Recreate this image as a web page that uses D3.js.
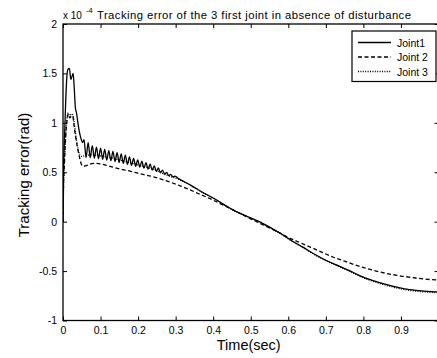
<!DOCTYPE html>
<html>
<head>
<meta charset="utf-8">
<script src="https://cdn.jsdelivr.net/npm/d3@7/dist/d3.min.js"></script>
<style>
    body { margin: 0; background: #fff; }
    svg { display: block; font-family: Arial, "Liberation Sans", sans-serif; }
</style>
</head>
<body>
<svg id="chart" width="437" height="358"></svg>
<script>
// values in units of 1e-4 rad
const xTicks = [0, 0.1, 0.2, 0.3, 0.4, 0.5, 0.6, 0.7, 0.8, 0.9];
const xTickLabels = ['0', '0.1', '0.2', '0.3', '0.4', '0.5', '0.6', '0.7', '0.8', '0.9'];
const yTicks = [-1, -0.5, 0, 0.5, 1, 1.5, 2];
const yTickLabels = ['-1', '-0.5', '0', '0.5', '1', '1.5', '2'];

const seriesNames = ['Joint1', 'Joint 2', 'Joint 3'];

const joint1Time = [
    0, 0.001, 0.004, 0.007, 0.010, 0.013, 0.017, 0.021, 0.024, 0.027, 0.030, 0.033,
    0.036, 0.039, 0.043, 0.048, 0.052,
    0.0560, 0.0615, 0.0670, 0.0725, 0.0780, 0.0835, 0.0890, 0.0945, 0.1000, 0.1055,
    0.1110, 0.1165, 0.1220, 0.1275, 0.1330, 0.1385, 0.1440, 0.1495, 0.1550, 0.1605,
    0.1660, 0.1715, 0.1770, 0.1825, 0.1880, 0.1935, 0.1990, 0.2045, 0.2100, 0.2155,
    0.2210, 0.2265, 0.2320, 0.2375, 0.2430, 0.2485, 0.2540, 0.2595, 0.2650, 0.2705,
    0.2760, 0.2815, 0.2870, 0.2925, 0.2980,
    0.31, 0.34, 0.37, 0.40, 0.43, 0.46, 0.49, 0.52, 0.55, 0.58, 0.61, 0.64, 0.67,
    0.70, 0.73, 0.76, 0.79, 0.82, 0.85, 0.88, 0.91, 0.94, 0.97, 1.0
];
const joint1Error = [
    0, 0.45, 0.85, 1.2, 1.45, 1.54, 1.55, 1.44, 1.47, 1.50, 1.35, 1.15,
    1.10, 1.02, 0.92, 0.84, 0.80,
    0.83, 0.649, 0.80, 0.647, 0.770, 0.643, 0.755, 0.638, 0.745, 0.631,
    0.732, 0.623, 0.719, 0.617, 0.711, 0.608, 0.698, 0.598, 0.686, 0.589,
    0.672, 0.579, 0.656, 0.569, 0.641, 0.560, 0.626, 0.551, 0.612, 0.542,
    0.596, 0.531, 0.581, 0.521, 0.564, 0.510, 0.543, 0.495, 0.522, 0.480,
    0.499, 0.467, 0.478, 0.453, 0.460,
    0.43, 0.37, 0.30, 0.24, 0.17, 0.105, 0.055, 0.005, -0.055, -0.12, -0.195, -0.26, -0.33,
    -0.39, -0.44, -0.49, -0.545, -0.59, -0.625, -0.655, -0.68, -0.695, -0.705, -0.71
];

const joint2Time = [
    0, 0.001, 0.004, 0.007, 0.010, 0.014, 0.018, 0.022, 0.026, 0.030, 0.034, 0.039,
    0.044, 0.049, 0.054, 0.060, 0.07, 0.08, 0.10, 0.12, 0.15, 0.18, 0.21, 0.24, 0.27,
    0.30, 0.33, 0.36, 0.39, 0.42, 0.45, 0.48, 0.51, 0.54, 0.57, 0.60, 0.63, 0.66,
    0.69, 0.72, 0.75, 0.78, 0.81, 0.84, 0.87, 0.90, 0.93, 0.96, 1.0
];
const joint2Error = [
    0, 0.3, 0.6, 0.85, 1.0, 1.09, 1.05, 1.07, 1.07, 0.95, 0.85, 0.74,
    0.65, 0.58, 0.56, 0.565, 0.58, 0.59, 0.585, 0.565, 0.535, 0.51, 0.48, 0.455, 0.42,
    0.38, 0.335, 0.285, 0.235, 0.18, 0.125, 0.065, 0.01, -0.045, -0.10, -0.16, -0.21, -0.26,
    -0.31, -0.36, -0.40, -0.44, -0.475, -0.505, -0.53, -0.55, -0.565, -0.58, -0.59
];

const joint3Time = [
    0, 0.002, 0.006, 0.010, 0.014, 0.018, 0.022, 0.026, 0.030, 0.034, 0.039, 0.044,
    0.05, 0.06, 0.08, 0.10, 0.13, 0.16, 0.20, 0.24, 0.28, 0.31, 0.34, 0.37, 0.40,
    0.43, 0.46, 0.49, 0.52, 0.55, 0.58, 0.61, 0.64, 0.67, 0.70, 0.73, 0.76, 0.79,
    0.82, 0.85, 0.88, 0.91, 0.94, 0.97, 1.0
];
const joint3Error = [
    0, 0.4, 0.8, 1.02, 1.10, 1.06, 1.09, 1.08, 1.0, 0.88, 0.76, 0.68,
    0.66, 0.67, 0.675, 0.665, 0.645, 0.615, 0.575, 0.53, 0.465, 0.425, 0.367, 0.297, 0.237,
    0.167, 0.102, 0.052, 0.002, -0.058, -0.123, -0.198, -0.264, -0.334, -0.395, -0.447, -0.497, -0.552,
    -0.597, -0.633, -0.663, -0.688, -0.703, -0.713, -0.718
];

const series = [
    { name: seriesNames[0], t: joint1Time, v: joint1Error, dash: null },
    { name: seriesNames[1], t: joint2Time, v: joint2Error, dash: '4,2.5' },
    { name: seriesNames[2], t: joint3Time, v: joint3Error, dash: '1,1.4' }
];

const svg = d3.select('#chart');

// plot box (right edge runs just past the window like the original)
const box = { left: 63, right: 438.5, top: 24, bottom: 320.5 };

const x = d3.scaleLinear().domain([0, 1]).range([box.left, box.right]);
const y = d3.scaleLinear().domain([-1, 2]).range([box.bottom, box.top]);

svg.append('rect')
    .attr('width', 437).attr('height', 358).attr('fill', '#fff');

svg.append('defs').append('clipPath').attr('id', 'plot-clip')
    .append('rect')
    .attr('x', box.left).attr('y', box.top)
    .attr('width', box.right - box.left).attr('height', box.bottom - box.top);

// curves
const line = d3.line()
    .x(d => x(d[0]))
    .y(d => y(d[1]))
    .curve(d3.curveMonotoneX);

const curves = svg.append('g').attr('clip-path', 'url(#plot-clip)');
// draw joint 3 first, then joint 2, then joint 1 on top
[series[2], series[1], series[0]].forEach(s => {
    curves.append('path')
        .datum(s.t.map((t, i) => [t, s.v[i]]))
        .attr('fill', 'none')
        .attr('stroke', '#000')
        .attr('stroke-width', 1.3)
        .attr('stroke-dasharray', s.dash)
        .attr('d', line);
});

// axes: ticks point inward on all four sides
const tickLen = 4;
const axisFont = g => g.selectAll('text')
    .attr('font-size', 10.5)
    .attr('font-family', 'Arial, "Liberation Sans", sans-serif')
    .attr('fill', '#000');

svg.append('g')
    .attr('transform', `translate(0,${box.bottom})`)
    .call(d3.axisBottom(x).tickValues(xTicks).tickFormat((d, i) => xTickLabels[i])
        .tickSizeInner(-tickLen).tickSizeOuter(0).tickPadding(6))
    .call(axisFont)
    .call(g => g.select('.domain').remove());

svg.append('g')
    .attr('transform', `translate(0,${box.top})`)
    .call(d3.axisTop(x).tickValues(xTicks).tickFormat('')
        .tickSizeInner(-tickLen).tickSizeOuter(0))
    .call(g => g.select('.domain').remove());

svg.append('g')
    .attr('transform', `translate(${box.left},0)`)
    .call(d3.axisLeft(y).tickValues(yTicks).tickFormat((d, i) => yTickLabels[i])
        .tickSizeInner(-tickLen).tickSizeOuter(0).tickPadding(6))
    .call(axisFont)
    .call(g => g.select('.domain').remove());

svg.append('g')
    .attr('transform', `translate(${box.right},0)`)
    .call(d3.axisRight(y).tickValues(yTicks).tickFormat('')
        .tickSizeInner(-tickLen).tickSizeOuter(0))
    .call(g => g.select('.domain').remove());

svg.selectAll('.tick line').attr('stroke', '#000');

// frame
svg.append('rect')
    .attr('x', box.left).attr('y', box.top)
    .attr('width', box.right - box.left).attr('height', box.bottom - box.top)
    .attr('fill', 'none')
    .attr('stroke', '#000')
    .attr('stroke-width', 1.3);

// exponent and title
svg.append('text')
    .attr('x', box.left).attr('y', 18.5)
    .attr('font-size', 10)
    .text('x 10');
svg.append('text')
    .attr('x', box.left + 23).attr('y', 13)
    .attr('font-size', 7.5)
    .text('-4');
svg.append('text')
    .attr('x', 97).attr('y', 18.5)
    .attr('font-size', 11.3)
    .attr('textLength', 314)
    .attr('lengthAdjust', 'spacing')
    .text('Tracking error of the 3 first joint in absence of disturbance');

// axis labels
svg.append('text')
    .attr('x', (box.left + box.right) / 2 - 2).attr('y', 350)
    .attr('text-anchor', 'middle')
    .attr('font-size', 14.5)
    .text('Time(sec)');

svg.append('text')
    .attr('transform', 'translate(29,175) rotate(-90)')
    .attr('text-anchor', 'middle')
    .attr('font-size', 15)
    .text('Tracking error(rad)');

// legend
const lg = svg.append('g').attr('transform', 'translate(352,31)');
lg.append('rect')
    .attr('width', 84).attr('height', 50.5)
    .attr('fill', '#fff')
    .attr('stroke', '#000')
    .attr('stroke-width', 1.2);

series.forEach((s, i) => {
    const row = lg.append('g').attr('transform', `translate(0,${11.5 + i * 14.5})`);
    row.append('line')
        .attr('x1', 6).attr('x2', 39)
        .attr('stroke', '#000')
        .attr('stroke-width', 1.3)
        .attr('stroke-dasharray', s.dash);
    row.append('text')
        .attr('x', 45).attr('y', 4)
        .attr('font-size', 10.5)
        .text(s.name);
});
</script>
</body>
</html>
